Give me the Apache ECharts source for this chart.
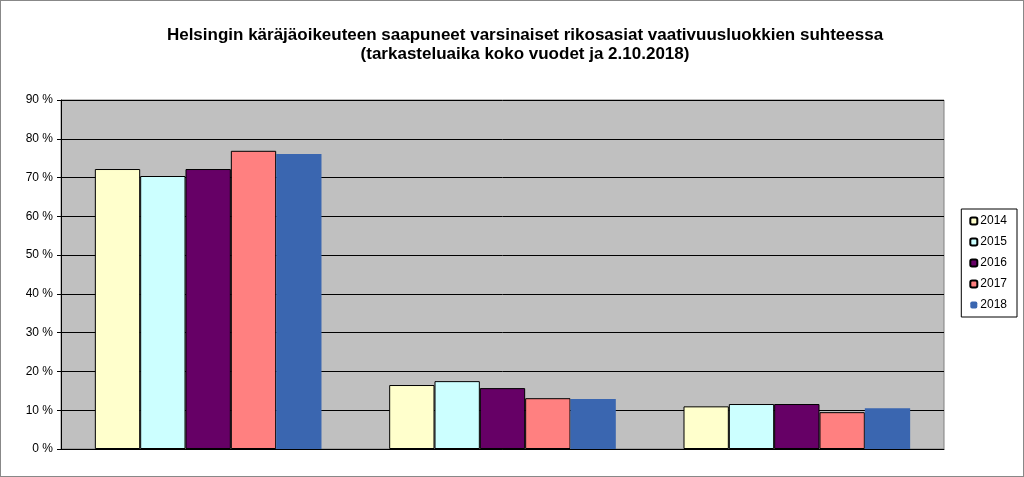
<!DOCTYPE html>
<html><head><meta charset="utf-8">
<script src="https://cdn.jsdelivr.net/npm/echarts@6/dist/echarts.min.js"></script>
<style>html,body{margin:0;padding:0;background:#fff}#c{width:1024px;height:477px;box-sizing:border-box;border:1px solid #888}</style>
</head><body><div id="c"></div>
<script>
var categories = ['1', '2', '3'];
var years = ['2014', '2015', '2016', '2017', '2018'];
var colors = ['#ffffcc', '#ccffff', '#660066', '#ff8080', '#3a66b0'];
var values = [
  [72.2, 16.5, 11.0],
  [70.4, 17.5, 11.6],
  [72.2, 15.7, 11.6],
  [76.9, 13.1, 9.5],
  [76.1, 12.9, 10.5]
];
var myChart = echarts.init(document.getElementById('c'));
var option = {
  animation: false,
  title: {
    text: 'Helsingin käräjäoikeuteen saapuneet varsinaiset rikosasiat vaativuusluokkien suhteessa\n(tarkasteluaika koko vuodet ja 2.10.2018)',
    left: 519, top: 20, textAlign: 'center',
    textStyle: {fontFamily: 'Liberation Sans', fontSize: 17, fontWeight: 'bold', color: '#000', lineHeight: 19}
  },
  legend: {
    orient: 'vertical', right: 6, top: 208, data: years,
    itemWidth: 7, itemHeight: 7, itemGap: 9,
    backgroundColor: '#fff', borderColor: '#000', borderWidth: 1, padding: [6, 10, 6, 8],
    textStyle: {fontFamily: 'Liberation Sans', fontSize: 12, color: '#000', padding: [0, 0, 0, -2]}
  },
  grid: {left: 60, right: 79, top: 99, bottom: 27, show: true, backgroundColor: '#c0c0c0', borderColor: '#808080', borderWidth: 1},
  xAxis: {
    type: 'category', data: categories,
    axisLabel: {show: false}, axisTick: {show: false},
    axisLine: {lineStyle: {color: '#000'}}
  },
  yAxis: {
    type: 'value', min: 0, max: 90, interval: 10,
    axisLine: {show: true, lineStyle: {color: '#000'}},
    axisTick: {show: true, length: 4, lineStyle: {color: '#000'}},
    splitLine: {lineStyle: {color: '#000', width: 1}},
    axisLabel: {formatter: '{value} %', fontFamily: 'Liberation Sans', fontSize: 12, color: '#000'}
  },
  series: years.map(function (y, i) {
    return {
      name: y, type: 'bar', data: values[i], barGap: '0%', barCategoryGap: '23%',
      itemStyle: {color: colors[i], borderColor: '#000', borderWidth: i === 4 ? 0 : 1}
    };
  })
};
myChart.setOption(option);
</script></body></html>
